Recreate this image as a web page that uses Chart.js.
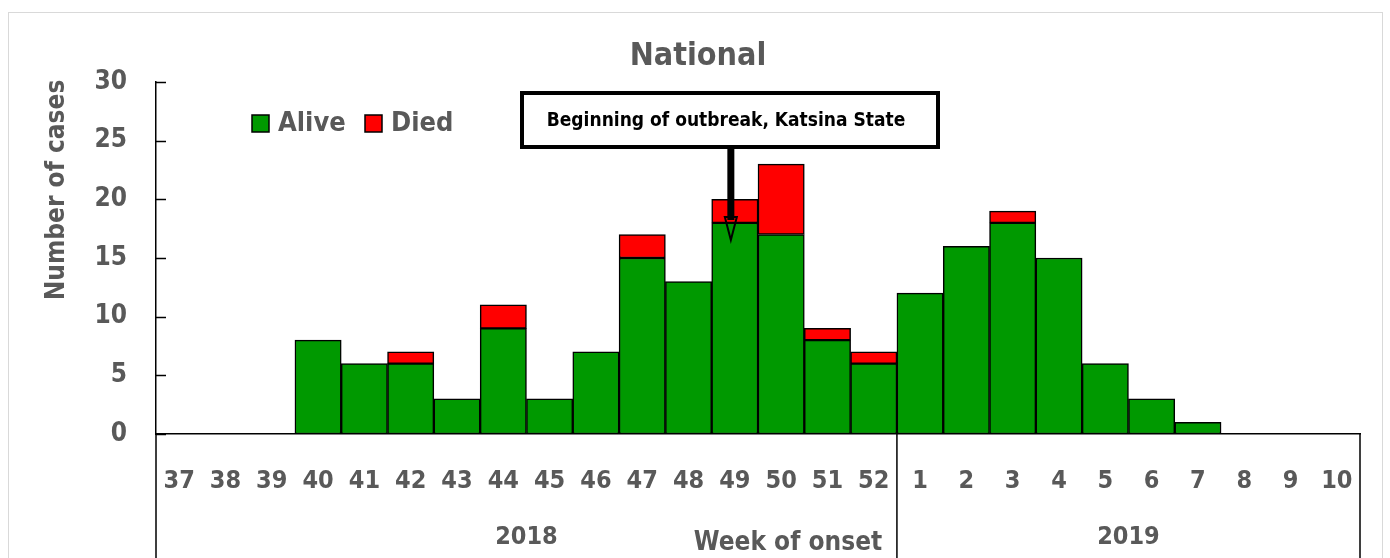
<!DOCTYPE html>
<html>
<head>
<meta charset="utf-8">
<script src="https://cdn.jsdelivr.net/npm/chart.js@4/dist/chart.umd.min.js"></script>
<style>
  body { margin: 0; background: #fff; }
  #wrap { width: 1390px; height: 558px; }
</style>
</head>
<body>
<div id="wrap"><canvas id="myChart" width="1390" height="558"></canvas></div>
<script>
const weeks = ['37','38','39','40','41','42','43','44','45','46','47','48','49','50','51','52',
               '1','2','3','4','5','6','7','8','9','10'];
const alive = [0,0,0,8,6,6,3,9,3,7,15,13,18,17,8,6,12,16,18,15,6,3,1,0,0,0];
const died  = [0,0,0,0,0,1,0,2,0,0,2,0,2,6,1,1,0,0,1,0,0,0,0,0,0,0];
const yTicks = [0,5,10,15,20,25,30];
const years = [{label:'2018', from:'37', to:'52'}, {label:'2019', from:'1', to:'10'}];

const FONT = '"DejaVu Sans Condensed", "Liberation Sans Narrow", Arial, sans-serif';
const GREY = '#595959';

// zero values -> null so no empty outlined bars
const nz = arr => arr.map(v => v === 0 ? null : v);

const extras = {
  id: 'extras',
  beforeDraw(chart) {
    const c = chart.ctx;
    c.save();
    c.strokeStyle = '#d9d9d9';
    c.lineWidth = 1;
    c.strokeRect(8.5, 12.5, 1374, 560);
    c.restore();
  },
  afterDraw(chart) {
    const c = chart.ctx;
    const x = chart.scales.x, y = chart.scales.y;
    const area = chart.chartArea;
    const bottom = chart.height;
    c.save();

    // title
    c.fillStyle = GREY;
    c.font = 'bold 32px ' + FONT;
    c.textAlign = 'center';
    c.textBaseline = 'middle';
    c.fillText('National', 698, 57);

    // y ticks pointing inward
    c.strokeStyle = '#000';
    c.lineWidth = 1.5;
    y.ticks.forEach(t => {
      const py = Math.round(y.getPixelForValue(t.value)) + 0.5;
      c.beginPath();
      c.moveTo(area.left, py);
      c.lineTo(area.left + 10, py);
      c.stroke();
    });

    // category box below the axis
    const half = (x.getPixelForValue(1) - x.getPixelForValue(0)) / 2;
    c.beginPath();
    c.moveTo(area.left, area.bottom);
    c.lineTo(area.left, bottom);
    years.forEach(yr => {
      const end = x.getPixelForValue(weeks.indexOf(yr.to)) + half;
      c.moveTo(end, area.bottom);
      c.lineTo(end, bottom);
    });
    c.stroke();

    // year labels
    c.fillStyle = GREY;
    c.font = 'bold 25px ' + FONT;
    years.forEach(yr => {
      const a = x.getPixelForValue(weeks.indexOf(yr.from)) - half;
      const b = x.getPixelForValue(weeks.indexOf(yr.to)) + half;
      c.fillText(yr.label, (a + b) / 2, 537);
    });
    c.font = 'bold 26px ' + FONT;
    c.fillText('Week of onset', 788, 543);

    // y axis title
    c.save();
    c.translate(57, 190);
    c.rotate(-Math.PI / 2);
    c.font = 'bold 26px ' + FONT;
    c.fillText('Number of cases', 0, 0);
    c.restore();

    // legend
    const ds = chart.data.datasets;
    let lx = 252;
    c.font = 'bold 27px ' + FONT;
    c.textAlign = 'left';
    ds.forEach(d => {
      c.fillStyle = d.backgroundColor;
      c.fillRect(lx, 115, 17, 17);
      c.strokeStyle = '#000';
      c.lineWidth = 1.5;
      c.strokeRect(lx, 115, 17, 17);
      c.fillStyle = GREY;
      c.fillText(d.label, lx + 26, 124);
      lx += 113;
    });

    // annotation box
    c.strokeStyle = '#000';
    c.lineWidth = 4;
    c.fillStyle = '#fff';
    c.fillRect(522, 93, 416, 54);
    c.strokeRect(522, 93, 416, 54);
    c.fillStyle = '#000';
    c.font = 'bold 19px ' + FONT;
    c.textAlign = 'center';
    c.fillText('Beginning of outbreak, Katsina State', 726, 121);

    // arrow
    const ax = x.getPixelForValue(weeks.indexOf('49')) - 4;
    c.lineWidth = 7;
    c.beginPath();
    c.moveTo(ax, 149);
    c.lineTo(ax, 220);
    c.stroke();
    c.lineWidth = 2;
    c.beginPath();
    c.moveTo(ax - 6, 217);
    c.lineTo(ax + 6, 217);
    c.lineTo(ax, 240);
    c.closePath();
    c.stroke();

    c.restore();
  }
};

const ctx = document.getElementById('myChart');
new Chart(ctx, {
  type: 'bar',
  data: {
    labels: weeks,
    datasets: [
      { label: 'Alive', data: nz(alive), backgroundColor: '#009900', borderColor: '#000', borderWidth: 1.5, borderSkipped: false },
      { label: 'Died',  data: nz(died),  backgroundColor: '#ff0000', borderColor: '#000', borderWidth: 1.5, borderSkipped: false }
    ]
  },
  plugins: [extras],
  options: {
    responsive: false,
    animation: false,
    layout: { padding: { top: 82, left: 8, right: 30, bottom: 0 } },
    datasets: { bar: { barPercentage: 1, categoryPercentage: 1 } },
    plugins: { legend: { display: false }, title: { display: false }, tooltip: { enabled: false } },
    scales: {
      x: {
        stacked: true,
        grid: { display: false, drawTicks: false },
        border: { display: true, color: '#000', width: 1.5 },
        ticks: { padding: 32, color: GREY, font: { family: FONT, size: 25, weight: 'bold' }, maxRotation: 0, autoSkip: false },
        afterFit: s => { s.height = 124; }
      },
      y: {
        stacked: true,
        min: 0, max: 30,
        afterBuildTicks: s => { s.ticks = yTicks.map(v => ({ value: v })); },
        grid: { display: false, drawTicks: false },
        border: { display: true, color: '#000', width: 1.5 },
        ticks: { padding: 29, color: GREY, font: { family: FONT, size: 26, weight: 'bold' } },
        afterFit: s => { s.width = 148; }
      }
    }
  }
});
</script>
</body>
</html>
